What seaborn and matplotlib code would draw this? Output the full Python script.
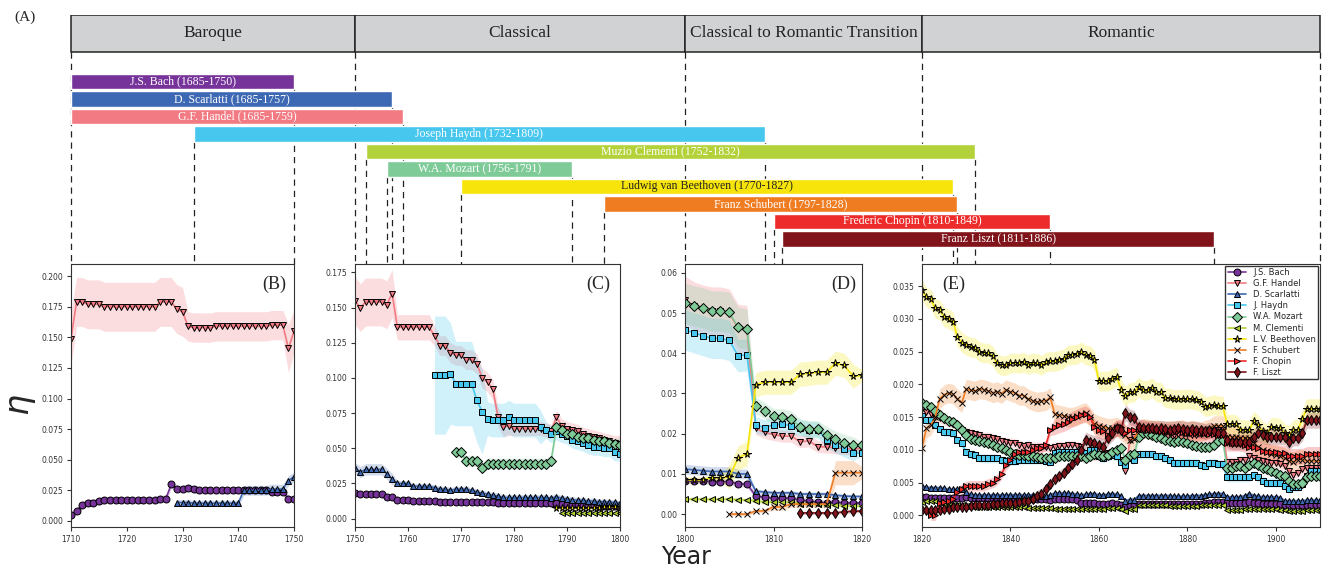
import numpy as np
import matplotlib
matplotlib.use('Agg')
import matplotlib.pyplot as plt
import seaborn as sns
from matplotlib.ticker import MultipleLocator

sns.set_style('ticks')
plt.rcParams['font.family'] = ['DejaVu Sans']
SERIF = ['Liberation Serif', 'DejaVu Serif']

# ---- timeline (panel A) ----
periods = ['Baroque', 'Classical', 'Classical to Romantic Transition', 'Romantic']
period_years = [1710, 1750, 1800, 1820, 1910]

bar_names = ['J.S. Bach', 'D. Scarlatti', 'G.F. Handel', 'Joseph Haydn', 'Muzio Clementi',
             'W.A. Mozart', 'Ludwig van Beethoven', 'Franz Schubert', 'Frederic Chopin', 'Franz Liszt']
births = [1685, 1685, 1685, 1732, 1752, 1756, 1770, 1797, 1810, 1811]
deaths = [1750, 1757, 1759, 1809, 1832, 1791, 1827, 1828, 1849, 1886]
bar_colors = ['#76339a', '#3d68b3', '#f27a82', '#47c6ee', '#b3d23a',
              '#7ecb98', '#f7e40a', '#f07c22', '#ee2b2b', '#80141a']

# ---- eta per year (start year + yearly values) ----
bach_start = 1710
bach_eta = [0.005, 0.008, 0.013, 0.015, 0.015, 0.016, 0.017, 0.017, 0.017, 0.017,
            0.017, 0.017, 0.017, 0.017, 0.017, 0.017, 0.018, 0.018, 0.030, 0.026,
            0.026, 0.027, 0.026, 0.025, 0.025, 0.025, 0.025, 0.025, 0.025, 0.025,
            0.025, 0.025, 0.025, 0.025, 0.025, 0.025, 0.024, 0.024, 0.024, 0.018,
            0.018, 0.0175, 0.0175, 0.0175, 0.0175, 0.0175, 0.0155, 0.015, 0.0133, 0.0133,
            0.0133, 0.0125, 0.0125, 0.0125, 0.0125, 0.0122, 0.012, 0.012, 0.012, 0.012,
            0.012, 0.012, 0.012, 0.0118, 0.0118, 0.0118, 0.0115, 0.011, 0.0112, 0.0112,
            0.0112, 0.0112, 0.0112, 0.0112, 0.0112, 0.0112, 0.0112, 0.0112, 0.0112, 0.0105,
            0.0105, 0.0103, 0.010, 0.0098, 0.0095, 0.0093, 0.0092, 0.009, 0.009, 0.0088,
            0.0083, 0.0083, 0.0083, 0.0081, 0.0081, 0.0081, 0.0075, 0.0075, 0.0045, 0.0042,
            0.004, 0.004, 0.004, 0.0035, 0.0033, 0.003, 0.0028, 0.003, 0.0028, 0.0028,
            0.0028, 0.0028, 0.0027, 0.0027, 0.0027, 0.0026, 0.0026, 0.0027, 0.0027, 0.0027,
            0.0028, 0.0027, 0.0027, 0.0026, 0.0026, 0.0027, 0.0027, 0.0026, 0.0026, 0.0026,
            0.0026, 0.0025, 0.0025, 0.0026, 0.0026, 0.0025, 0.0025, 0.0025, 0.0025, 0.0024,
            0.0025, 0.0025, 0.0025, 0.0025, 0.0025, 0.0024, 0.0018, 0.0018, 0.0018, 0.0018,
            0.0017, 0.0017, 0.0017, 0.0018, 0.0017, 0.0015, 0.0012, 0.0015, 0.0015, 0.0017,
            0.0017, 0.0017, 0.0017, 0.0017, 0.0017, 0.0017, 0.0017, 0.0017, 0.0017, 0.0017,
            0.0017, 0.0017, 0.0017, 0.0017, 0.0018, 0.0019, 0.002, 0.002, 0.002, 0.0019,
            0.0019, 0.0019, 0.0019, 0.0019, 0.002, 0.0019, 0.0018, 0.0017, 0.0017, 0.0017,
            0.0017, 0.0017, 0.0016, 0.0015, 0.0015, 0.0015, 0.0015, 0.0015, 0.0015, 0.0015,
            0.0015]
bach_band = [(1710, 0.003), (1750, 0.002), (1800, 0.0007), (1820, 0.0003)]

handel_start = 1710
handel_eta = [0.149, 0.179, 0.179, 0.177, 0.177, 0.177, 0.175, 0.175, 0.175, 0.175,
              0.175, 0.175, 0.175, 0.175, 0.175, 0.175, 0.179, 0.179, 0.179, 0.173,
              0.171, 0.159, 0.158, 0.158, 0.158, 0.158, 0.159, 0.159, 0.159, 0.159,
              0.159, 0.159, 0.159, 0.159, 0.159, 0.159, 0.160, 0.160, 0.160, 0.141,
              0.155, 0.150, 0.154, 0.154, 0.154, 0.154, 0.152, 0.160, 0.136, 0.136,
              0.136, 0.136, 0.136, 0.136, 0.136, 0.130, 0.123, 0.123, 0.118, 0.116,
              0.116, 0.113, 0.113, 0.110, 0.100, 0.097, 0.092, 0.072, 0.065, 0.066,
              0.064, 0.064, 0.064, 0.064, 0.064, 0.064, 0.063, 0.062, 0.072, 0.066,
              0.064, 0.063, 0.062, 0.060, 0.059, 0.058, 0.057, 0.056, 0.055, 0.054,
              0.0532, 0.0518, 0.051, 0.0505, 0.0505, 0.050, 0.0462, 0.0459, 0.0213, 0.0203,
              0.0198, 0.0194, 0.0194, 0.018, 0.0182, 0.0168, 0.0167, 0.0165, 0.0163, 0.0162,
              0.0163, 0.0158, 0.0155, 0.015, 0.0148, 0.0145, 0.0142, 0.014, 0.0135, 0.013,
              0.0127, 0.0126, 0.0124, 0.0122, 0.012, 0.012, 0.0118, 0.0116, 0.0113, 0.0112,
              0.0111, 0.011, 0.0108, 0.0106, 0.0107, 0.0105, 0.0105, 0.0104, 0.0104, 0.0103,
              0.0105, 0.0106, 0.0106, 0.0107, 0.0107, 0.0106, 0.0105, 0.0095, 0.0092, 0.009,
              0.0092, 0.0093, 0.0095, 0.0096, 0.0098, 0.0085, 0.0068, 0.0115, 0.012, 0.0125,
              0.0127, 0.0126, 0.0125, 0.0125, 0.0124, 0.0125, 0.0124, 0.0123, 0.0124, 0.0125,
              0.0124, 0.0123, 0.0123, 0.0124, 0.0125, 0.0126, 0.0128, 0.013, 0.013, 0.0082,
              0.0082, 0.0082, 0.0085, 0.0085, 0.009, 0.0088, 0.0085, 0.0083, 0.0082, 0.008,
              0.008, 0.0078, 0.0075, 0.0068, 0.0062, 0.0065, 0.007, 0.0072, 0.0072, 0.0072,
              0.0072]
handel_band = [(1710, 0.022), (1711, 0.02), (1731, 0.012), (1749, 0.02), (1750, 0.017),
               (1758, 0.009), (1765, 0.007), (1780, 0.005), (1800, 0.006), (1808, 0.0015),
               (1820, 0.0007)]

scarlatti_start = 1729
scarlatti_eta = [0.015,
                 0.015, 0.015, 0.0145, 0.0145, 0.0145, 0.0145, 0.0145, 0.0145, 0.0145, 0.0145,
                 0.0145, 0.025, 0.025, 0.025, 0.025, 0.025, 0.026, 0.026, 0.026, 0.033,
                 0.036, 0.033, 0.035, 0.035, 0.035, 0.035, 0.032, 0.028, 0.025, 0.025,
                 0.025, 0.023, 0.023, 0.023, 0.023, 0.022, 0.021, 0.021, 0.020, 0.021,
                 0.021, 0.021, 0.020, 0.019, 0.018, 0.0175, 0.0165, 0.016, 0.015, 0.015,
                 0.015, 0.015, 0.015, 0.015, 0.015, 0.015, 0.015, 0.0145, 0.0155, 0.0145,
                 0.014, 0.0135, 0.013, 0.013, 0.0125, 0.0125, 0.012, 0.012, 0.0118, 0.0115,
                 0.0112, 0.011, 0.0108, 0.0106, 0.0106, 0.0106, 0.010, 0.010, 0.0057, 0.0055,
                 0.0053, 0.0053, 0.0053, 0.005, 0.005, 0.005, 0.005, 0.0047, 0.0045, 0.0044,
                 0.0044, 0.0043, 0.0042, 0.0042, 0.0042, 0.0041, 0.004, 0.004, 0.004, 0.004,
                 0.0035, 0.0032, 0.0031, 0.0031, 0.0031, 0.0031, 0.0031, 0.0031, 0.0031, 0.0031,
                 0.0031, 0.0031, 0.0031, 0.0031, 0.0031, 0.0031, 0.003, 0.003, 0.003, 0.0031,
                 0.0034, 0.0034, 0.0034, 0.0034, 0.0033, 0.0032, 0.0031, 0.0032, 0.0033, 0.0033,
                 0.0031, 0.0031, 0.0032, 0.0033, 0.0032, 0.003, 0.0022, 0.0024, 0.0024, 0.003,
                 0.003, 0.003, 0.003, 0.003, 0.003, 0.003, 0.003, 0.0029, 0.0029, 0.0029,
                 0.0029, 0.003, 0.003, 0.003, 0.0031, 0.0032, 0.0033, 0.0033, 0.0033, 0.0028,
                 0.0028, 0.0028, 0.0028, 0.003, 0.0033, 0.003, 0.0029, 0.0028, 0.0028, 0.0028,
                 0.0028, 0.0027, 0.0022, 0.0022, 0.0022, 0.0022, 0.0022, 0.0023, 0.0023, 0.0023,
                 0.0023]
scarlatti_band = [(1729, 0.0025), (1741, 0.004), (1758, 0.002), (1800, 0.0012),
                  (1808, 0.0005), (1820, 0.0003)]

haydn_start = 1765
haydn_eta = [0.102, 0.102, 0.102, 0.103, 0.096,
             0.096, 0.096, 0.096, 0.084, 0.076, 0.071, 0.070, 0.070, 0.070, 0.072,
             0.070, 0.070, 0.070, 0.070, 0.070, 0.065, 0.063, 0.060, 0.062, 0.060,
             0.059, 0.056, 0.055, 0.054, 0.052, 0.051, 0.051, 0.050, 0.050, 0.047,
             0.0458, 0.0451, 0.0444, 0.0437, 0.0437, 0.0432, 0.0394, 0.0396, 0.0222, 0.0215,
             0.0222, 0.0224, 0.022, 0.0215, 0.021, 0.021, 0.0185, 0.0172, 0.0162, 0.0153,
             0.0151, 0.0145, 0.0145, 0.0138, 0.0132, 0.0127, 0.0127, 0.0125, 0.0115, 0.011,
             0.0096, 0.0093, 0.0092, 0.0088, 0.0087, 0.0087, 0.0087, 0.0087, 0.0084, 0.0083,
             0.0083, 0.0083, 0.0085, 0.0085, 0.0085, 0.0085, 0.0085, 0.0085, 0.0083, 0.0082,
             0.0095, 0.0096, 0.0096, 0.0096, 0.0096, 0.0097, 0.0097, 0.0095, 0.010, 0.010,
             0.009, 0.0087, 0.009, 0.0092, 0.009, 0.0082, 0.0077, 0.0087, 0.0085, 0.0093,
             0.0093, 0.0093, 0.0093, 0.009, 0.009, 0.0087, 0.0085, 0.008, 0.008, 0.008,
             0.008, 0.008, 0.008, 0.0077, 0.0076, 0.008, 0.008, 0.0078, 0.0078, 0.0058,
             0.0058, 0.0058, 0.0058, 0.0058, 0.0058, 0.0062, 0.0058, 0.0053, 0.005, 0.005,
             0.005, 0.005, 0.0045, 0.004, 0.0043, 0.0043, 0.0047, 0.006, 0.0068, 0.0068,
             0.0068]
haydn_band = [(1765, 0.042), (1768, 0.036), (1769, 0.03), (1775, 0.012), (1786, 0.006),
              (1800, 0.005), (1806, 0.004), (1808, 0.002), (1820, 0.0007)]

mozart_start = 1769
mozart_eta = [0.047,
              0.047, 0.041, 0.041, 0.041, 0.036, 0.039, 0.039, 0.039, 0.039, 0.039,
              0.039, 0.039, 0.039, 0.039, 0.039, 0.039, 0.039, 0.041, 0.065, 0.063,
              0.060, 0.060, 0.058, 0.057, 0.057, 0.056, 0.055, 0.055, 0.054, 0.053,
              0.0525, 0.0518, 0.0513, 0.0505, 0.0505, 0.0502, 0.0465, 0.046, 0.027, 0.0257,
              0.0243, 0.0242, 0.0237, 0.0217, 0.0212, 0.0212, 0.0198, 0.0187, 0.0178, 0.0172,
              0.0172, 0.0168, 0.0166, 0.016, 0.0153, 0.0148, 0.0144, 0.0142, 0.0138, 0.013,
              0.0122, 0.0117, 0.0115, 0.0113, 0.0112, 0.011, 0.0108, 0.0105, 0.0102, 0.010,
              0.0096, 0.0093, 0.0092, 0.0092, 0.009, 0.009, 0.0089, 0.0088, 0.0087, 0.0087,
              0.0088, 0.009, 0.009, 0.0091, 0.0091, 0.009, 0.009, 0.0087, 0.009, 0.0093,
              0.0092, 0.009, 0.0092, 0.0096, 0.010, 0.0102, 0.0085, 0.0092, 0.0093, 0.012,
              0.0125, 0.0124, 0.0123, 0.012, 0.0118, 0.0115, 0.0113, 0.0112, 0.0113, 0.0112,
              0.011, 0.0108, 0.0106, 0.0105, 0.0104, 0.0104, 0.0108, 0.0113, 0.0115, 0.0072,
              0.0072, 0.0075, 0.0075, 0.0072, 0.0077, 0.008, 0.0077, 0.0072, 0.007, 0.0068,
              0.0065, 0.0062, 0.006, 0.0052, 0.0047, 0.0048, 0.005, 0.0058, 0.006, 0.006,
              0.006]
mozart_band = [(1769, 0.004), (1800, 0.005), (1808, 0.002), (1820, 0.0008)]

clementi_start = 1789
clementi_eta = [0.004,
                0.004, 0.004, 0.004, 0.0038, 0.0038, 0.0038, 0.0038, 0.0038, 0.0038, 0.0037,
                0.0037, 0.0037, 0.0037, 0.0037, 0.0037, 0.0037, 0.0036, 0.0035, 0.0033, 0.003,
                0.003, 0.003, 0.003, 0.0026, 0.0025, 0.0024, 0.0023, 0.0022, 0.0021, 0.002,
                0.002, 0.0021, 0.0021, 0.0021, 0.002, 0.0017, 0.0016, 0.0016, 0.0016, 0.0016,
                0.0014, 0.0014, 0.0013, 0.0013, 0.0013, 0.0013, 0.0013, 0.0013, 0.0012, 0.0012,
                0.0012, 0.0012, 0.0012, 0.0012, 0.0011, 0.0011, 0.0011, 0.0011, 0.0011, 0.0011,
                0.001, 0.001, 0.001, 0.001, 0.001, 0.001, 0.001, 0.001, 0.001, 0.001,
                0.001, 0.001, 0.0011, 0.0011, 0.0011, 0.001, 0.0007, 0.0009, 0.001, 0.0015,
                0.0015, 0.0015, 0.0015, 0.0015, 0.0015, 0.0015, 0.0014, 0.0014, 0.0014, 0.0014,
                0.0014, 0.0014, 0.0014, 0.0015, 0.0015, 0.0015, 0.0015, 0.0015, 0.0015, 0.0008,
                0.0008, 0.0008, 0.0008, 0.0009, 0.001, 0.0009, 0.0009, 0.0009, 0.0009, 0.0009,
                0.0009, 0.0008, 0.0008, 0.0007, 0.0007, 0.0007, 0.0007, 0.0008, 0.0008, 0.0008,
                0.0008]
clementi_band = [(1789, 0.0005), (1820, 0.0002)]

beethoven_start = 1788
beethoven_eta = [0.0075, 0.0075,
                 0.0075, 0.0075, 0.0075, 0.0077, 0.0077, 0.0077, 0.0078, 0.008, 0.008, 0.0082,
                 0.0085, 0.0085, 0.0085, 0.009, 0.009, 0.0092, 0.014, 0.015, 0.0322, 0.0328,
                 0.0328, 0.0328, 0.0328, 0.0348, 0.035, 0.0353, 0.0353, 0.0375, 0.037, 0.0343,
                 0.0345, 0.0333, 0.033, 0.0316, 0.0314, 0.0303, 0.030, 0.0296, 0.0273, 0.0264,
                 0.026, 0.0257, 0.0256, 0.025, 0.0248, 0.0248, 0.0243, 0.0232, 0.0229, 0.0229,
                 0.0232, 0.0233, 0.0232, 0.0234, 0.023, 0.0233, 0.0232, 0.0229, 0.0234, 0.0235,
                 0.0235, 0.0237, 0.0239, 0.0245, 0.0245, 0.0246, 0.025, 0.0245, 0.0244, 0.0237,
                 0.0205, 0.0205, 0.0205, 0.0208, 0.0212, 0.0192, 0.0182, 0.0188, 0.0188, 0.0196,
                 0.0191, 0.0191, 0.0195, 0.0188, 0.0188, 0.0179, 0.0179, 0.0177, 0.0177, 0.0177,
                 0.0178, 0.0177, 0.0176, 0.0173, 0.0166, 0.0167, 0.0169, 0.0167, 0.0167, 0.0139,
                 0.0139, 0.0139, 0.0131, 0.0131, 0.013, 0.0144, 0.0138, 0.0128, 0.0125, 0.0135,
                 0.0134, 0.0133, 0.0125, 0.0122, 0.0131, 0.0131, 0.0147, 0.0163, 0.0163, 0.0163,
                 0.0163]
beethoven_band = [(1788, 0.0008), (1805, 0.003), (1820, 0.0015)]

schubert_start = 1805
schubert_eta = [0.0, 0.0, 0.0, 0.0008, 0.0008,
                0.0018, 0.0018, 0.0025, 0.0025, 0.0025, 0.0025, 0.0025, 0.0103, 0.0103, 0.0103,
                0.0103, 0.0133, 0.0138, 0.015, 0.0178, 0.0184, 0.0187, 0.0185, 0.0178, 0.0172,
                0.0193, 0.0191, 0.019, 0.0193, 0.0192, 0.019, 0.0187, 0.0189, 0.0186, 0.0192,
                0.0189, 0.0187, 0.0183, 0.0183, 0.0178, 0.0175, 0.0173, 0.0174, 0.0175, 0.018,
                0.0155, 0.0153, 0.0152, 0.015, 0.015, 0.0152, 0.0155, 0.0157, 0.015, 0.014,
                0.0137, 0.0135, 0.0133, 0.0133, 0.0135, 0.013, 0.0123, 0.0115, 0.0117, 0.013,
                0.0133, 0.0132, 0.013, 0.0131, 0.0129, 0.0128, 0.013, 0.0129, 0.013, 0.0131,
                0.0128, 0.013, 0.0129, 0.0127, 0.013, 0.0132, 0.0137, 0.0137, 0.0137, 0.012,
                0.012, 0.012, 0.0118, 0.0118, 0.0118, 0.011, 0.0105, 0.010, 0.0098, 0.0093,
                0.0092, 0.009, 0.0088, 0.0083, 0.0082, 0.0085, 0.0085, 0.0083, 0.0083, 0.0083,
                0.0083]
schubert_band = [(1805, 0.0004), (1810, 0.0008), (1817, 0.003), (1820, 0.0015)]

chopin_start = 1822
chopin_eta = [0.0, 0.0, 0.0018, 0.002, 0.0022, 0.0025, 0.0035, 0.004,
              0.0044, 0.0045, 0.0045, 0.0045, 0.0045, 0.0048, 0.005, 0.0055, 0.0063, 0.0077,
              0.0085, 0.0093, 0.0096, 0.0097, 0.0097, 0.010, 0.0102, 0.0103, 0.0107, 0.013,
              0.0135, 0.0138, 0.014, 0.0143, 0.0147, 0.015, 0.0153, 0.0155, 0.015, 0.0135,
              0.013, 0.0128, 0.0122, 0.0128, 0.0133, 0.0135, 0.0125, 0.013, 0.013, 0.0132,
              0.0132, 0.0131, 0.013, 0.013, 0.0129, 0.0128, 0.0128, 0.0127, 0.0128, 0.0127,
              0.0126, 0.0126, 0.0125, 0.0125, 0.0125, 0.0124, 0.0124, 0.0123, 0.0123, 0.011,
              0.011, 0.011, 0.011, 0.0108, 0.0105, 0.0105, 0.0102, 0.0098, 0.0097, 0.0096,
              0.0096, 0.0095, 0.0095, 0.009, 0.009, 0.009, 0.009, 0.0093, 0.0093, 0.0093,
              0.0093]
chopin_band = [(1822, 0.0008), (1850, 0.0012)]

liszt_start = 1813
liszt_eta = [0.0003, 0.0003, 0.0003, 0.0003, 0.0003, 0.0006, 0.0007,
             0.0008, 0.0008, 0.0008, 0.0008, 0.0008, 0.001, 0.001, 0.0012, 0.0012, 0.0013,
             0.0013, 0.0014, 0.0015, 0.0015, 0.0016, 0.0016, 0.0017, 0.0017, 0.0018, 0.0018,
             0.0019, 0.0019, 0.002, 0.0022, 0.0022, 0.0025, 0.003, 0.0033, 0.004, 0.0048,
             0.0055, 0.006, 0.0065, 0.0072, 0.0078, 0.0085, 0.010, 0.0115, 0.0112, 0.011,
             0.0108, 0.0105, 0.0118, 0.0125, 0.0133, 0.013, 0.0157, 0.015, 0.0148, 0.0135,
             0.0134, 0.0133, 0.0133, 0.0132, 0.0133, 0.0132, 0.0131, 0.0132, 0.0133, 0.0132,
             0.0131, 0.0132, 0.0131, 0.013, 0.0128, 0.013, 0.0128, 0.0125, 0.0125, 0.0115,
             0.0112, 0.0112, 0.0112, 0.0112, 0.0112, 0.012, 0.0125, 0.0122, 0.012, 0.012,
             0.012, 0.012, 0.012, 0.0112, 0.0118, 0.0118, 0.0125, 0.0145, 0.0145, 0.0145,
             0.0145]
liszt_band = [(1813, 0.0004), (1845, 0.0008), (1856, 0.0012)]

legend_names = ['J.S. Bach', 'G.F. Handel', 'D. Scarlatti', 'J. Haydn', 'W.A. Mozart',
                'M. Clementi', 'L.V. Beethoven', 'F. Schubert', 'F. Chopin', 'F. Liszt']
line_colors = ['#76339a', '#f27a82', '#3d68b3', '#47c6ee', '#7ecb98',
               '#b3d23a', '#f7e40a', '#f07c22', '#ee2b2b', '#80141a']
markers = ['o', 'v', '^', 's', 'D', '<', '*', 'x', '>', 'd']

series = [(bach_start, bach_eta, bach_band), (handel_start, handel_eta, handel_band),
          (scarlatti_start, scarlatti_eta, scarlatti_band), (haydn_start, haydn_eta, haydn_band),
          (mozart_start, mozart_eta, mozart_band), (clementi_start, clementi_eta, clementi_band),
          (beethoven_start, beethoven_eta, beethoven_band), (schubert_start, schubert_eta, schubert_band),
          (chopin_start, chopin_eta, chopin_band), (liszt_start, liszt_eta, liszt_band)]

panel_tags = ['(B)', '(C)', '(D)', '(E)']
panel_ylims = [(-0.005, 0.21), (-0.006, 0.181), (-0.0032, 0.0622), (-0.0018, 0.0384)]
panel_ystep = [0.025, 0.025, 0.01, 0.005]
panel_xstep = [10, 10, 10, 20]


def band_width(steps, yrs):
    out = np.zeros(len(yrs))
    for y0, w in steps:
        out[yrs >= y0] = w
    return out


W, H = 1323, 571
fig = plt.figure(figsize=(W / 100, H / 100), dpi=100)

# panel rectangles in pixels (left, width)
panel_px = [(71, 223), (355, 265), (685, 177), (922, 398)]
panels = []
for (left, width) in panel_px:
    panels.append(fig.add_axes([left / W, 44 / H, width / W, 263 / H]))

for k, ax in enumerate(panels):
    lo, hi = period_years[k], period_years[k + 1]
    for j, (start, eta, band) in enumerate(series):
        yrs = np.arange(start, start + len(eta))
        eta = np.array(eta)
        keep = (yrs >= lo) & (yrs <= hi)
        if not keep.any():
            continue
        hw = band_width(band, yrs)
        ax.fill_between(yrs[keep], eta[keep] - hw[keep], eta[keep] + hw[keep],
                        color=line_colors[j], alpha=0.25, lw=0, zorder=1)
        sns.lineplot(x=yrs[keep], y=eta[keep], ax=ax, color=line_colors[j],
                     marker=markers[j], markersize=5.5 if markers[j] == '*' else 5,
                     markeredgecolor='k', markeredgewidth=0.7, linewidth=1.2,
                     label=legend_names[j] if k == 3 else None, legend=False, zorder=2)
    ax.set_xlim(lo, hi)
    ax.set_ylim(*panel_ylims[k])
    ax.xaxis.set_major_locator(MultipleLocator(panel_xstep[k]))
    ax.yaxis.set_major_locator(MultipleLocator(panel_ystep[k]))
    ax.tick_params(labelsize=5.5, colors='#333333', length=3, pad=2.5)
    for s in ax.spines.values():
        s.set_visible(True)
        s.set_color('#333333')
    if k == 3:
        ax.text(0.05, 0.955, panel_tags[k], transform=ax.transAxes, ha='left', va='top',
                fontsize=13, family=SERIF)
        ax.legend(loc='upper right', fontsize=6, frameon=True, fancybox=False,
                  edgecolor='#333333', framealpha=1, borderaxespad=0.2,
                  handlelength=2.2, labelspacing=0.25, borderpad=0.3)
    else:
        ax.text(0.965, 0.955, panel_tags[k], transform=ax.transAxes, ha='right', va='top',
                fontsize=13, family=SERIF)


def year_x(year, side):
    year = max(year, period_years[0])
    for k, ax in enumerate(panels):
        lo, hi = period_years[k], period_years[k + 1]
        if (side == 'start' and lo <= year < hi) or (side == 'end' and lo < year <= hi):
            disp = ax.transData.transform((year, 0))
            return fig.transFigure.inverted().transform(disp)[0]
    return None


# timeline axis, x in figure fraction, y in bar rows
ax_top = fig.add_axes([0, 1 - 264 / H, 1, 249 / H])
ax_top.set_xlim(0, 1)
ax_top.set_ylim(10.43, -3.8)
ax_top.axis('off')

box_top, box_bot = -3.8, -1.686
dash = (0, (5, 4))
for k, name in enumerate(periods):
    x0 = year_x(period_years[k], 'start')
    x1 = year_x(period_years[k + 1], 'end') if k == 3 else year_x(period_years[k + 1], 'start')
    ax_top.barh((box_top + box_bot) / 2, x1 - x0, left=x0, height=box_bot - box_top,
                color='#d1d2d4', edgecolor='#222222', lw=1.1, zorder=3)
    ax_top.text((x0 + x1) / 2, (box_top + box_bot) / 2, name, ha='center', va='center',
                fontsize=12.5, family=SERIF, color='#222222', zorder=4)
    ax_top.vlines(x0, box_bot, 10.43, color='#222222', lw=0.9, linestyles=dash, zorder=1)
ax_top.vlines(year_x(period_years[-1], 'end'), box_bot, 10.43, color='#222222', lw=0.9,
              linestyles=dash, zorder=1)

for i, name in enumerate(bar_names):
    x0 = year_x(births[i], 'start')
    x1 = year_x(deaths[i], 'end')
    ax_top.barh(i, x1 - x0, left=x0, height=0.86, color=bar_colors[i], zorder=3)
    txt_color = '#222222' if bar_colors[i] == '#f7e40a' else 'white'
    ax_top.text((x0 + x1) / 2, i, f'{name} ({births[i]}-{deaths[i]})', ha='center',
                va='center', fontsize=8.5, family=SERIF, color=txt_color, zorder=4)
    ends = [x1] if births[i] < period_years[0] else [x0, x1]
    for x in ends:
        ax_top.vlines(x, i + 0.43, 10.43, color='#222222', lw=0.9, linestyles=dash, zorder=1)

fig.text(14 / W, 1 - 17 / H, '(A)', fontsize=11, family=SERIF, va='center')
fig.text(686 / W, 1 - 557 / H, 'Year', fontsize=17, ha='center', va='center', color='#222222')
fig.text(21 / W, 1 - 405 / H, r'$\eta$', fontsize=24, rotation=90, ha='center', va='center')

fig.savefig('out.png', dpi=100)
